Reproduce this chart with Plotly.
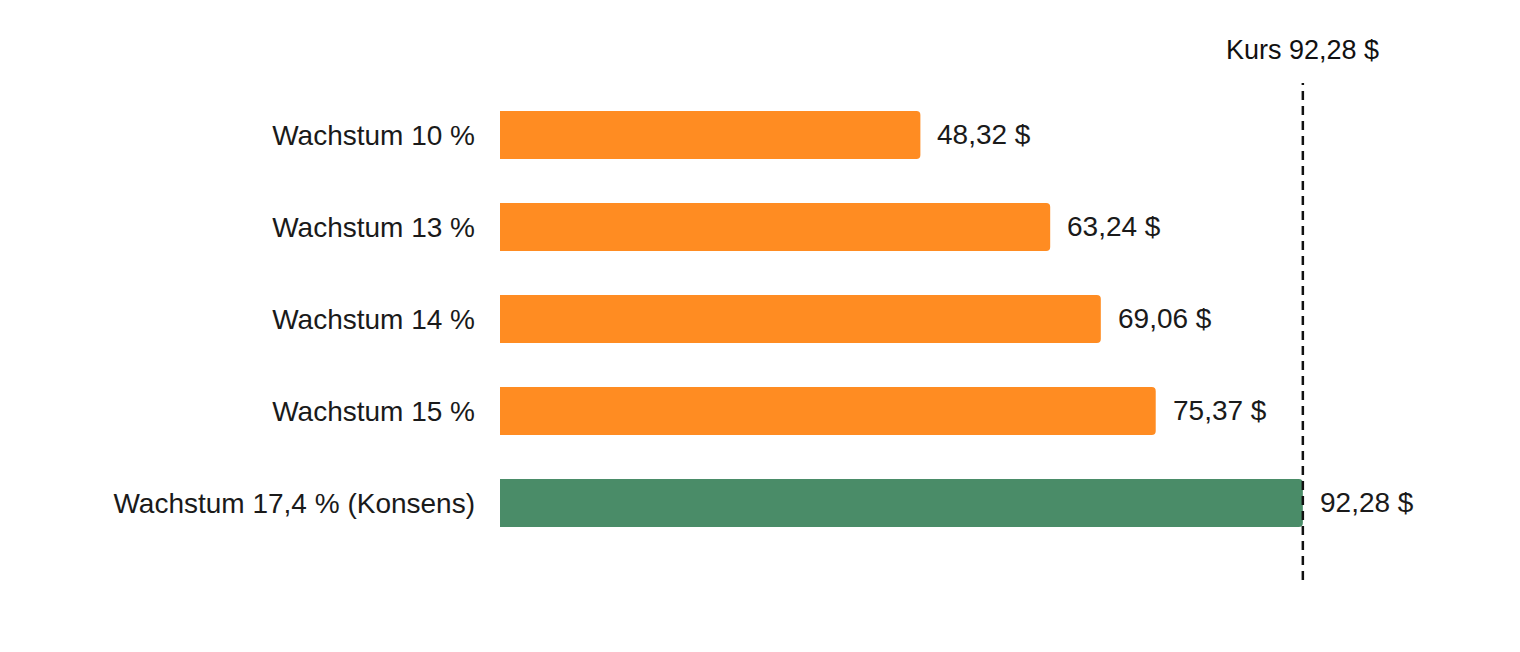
import plotly.graph_objects as go

# Data
categories = [
    "Wachstum 10 %",
    "Wachstum 13 %",
    "Wachstum 14 %",
    "Wachstum 15 %",
    "Wachstum 17,4 % (Konsens)",
]
fair_values = [48.32, 63.24, 69.06, 75.37, 92.28]
value_labels = ["48,32 $", "63,24 $", "69,06 $", "75,37 $", "92,28 $"]
bar_colors = ["#FF8C22", "#FF8C22", "#FF8C22", "#FF8C22", "#4A8C68"]
kurs = 92.28
kurs_label = "Kurs 92,28 $"

FONT = "Liberation Sans, Arial, Helvetica, sans-serif"

fig = go.Figure()
fig.add_trace(
    go.Bar(
        x=fair_values,
        y=categories,
        orientation="h",
        width=0.52,
        marker=dict(color=bar_colors, cornerradius=4, line=dict(width=0)),
        hoverinfo="skip",
    )
)

# value labels to the right of each bar
for cat, val, lab in zip(categories, fair_values, value_labels):
    fig.add_annotation(
        x=val, y=cat, text=lab, showarrow=False,
        xanchor="left", yanchor="middle", xshift=15,
        font=dict(family=FONT, size=28, color="#1a1a1a"),
    )

# current price line
fig.add_shape(
    type="line", xref="x", yref="paper",
    x0=kurs, x1=kurs, y0=0, y1=1,
    line=dict(color="#111111", width=2.5, dash="9px,6px"),
    layer="above",
)
fig.add_annotation(
    x=kurs, y=1, xref="x", yref="paper", text=kurs_label, showarrow=False,
    xanchor="center", yanchor="middle", yshift=33,
    font=dict(family=FONT, size=27, color="#111111"),
)

fig.update_layout(
    width=1520,
    height=652,
    margin=dict(l=492, r=158, t=75, b=80),
    plot_bgcolor="white",
    paper_bgcolor="white",
    showlegend=False,
    font=dict(family=FONT, size=28, color="#1a1a1a"),
    xaxis=dict(range=[0, 100], visible=False, showgrid=False, zeroline=False),
    yaxis=dict(
        categoryorder="array",
        categoryarray=categories,
        range=[4.837, -0.565],
        showgrid=False,
        zeroline=False,
        showline=False,
        ticks="",
        ticklabelstandoff=24,
        tickfont=dict(family=FONT, size=28, color="#1a1a1a"),
        automargin=False,
    ),
)

fig.write_html("out.html")
